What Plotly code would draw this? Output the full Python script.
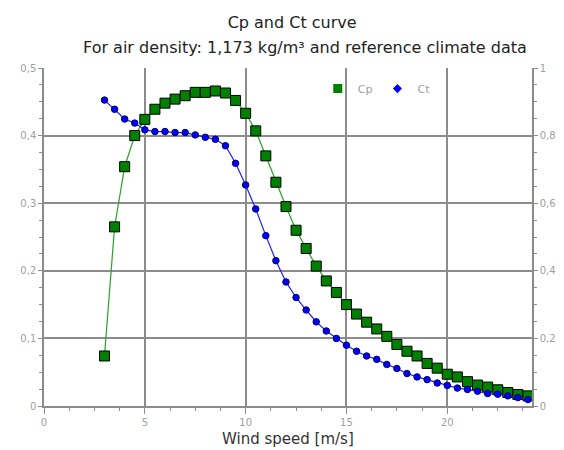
import plotly.graph_objects as go

wind_speed = [3 + 0.5 * i for i in range(43)]

cp_values = [0.074, 0.265, 0.354, 0.400, 0.424, 0.439, 0.448, 0.454, 0.459, 0.464,
             0.464, 0.466, 0.463, 0.452, 0.433, 0.407, 0.370, 0.331, 0.295, 0.260,
             0.233, 0.207, 0.185, 0.168, 0.150, 0.136, 0.124, 0.114, 0.103, 0.091,
             0.081, 0.074, 0.063, 0.056, 0.047, 0.043, 0.036, 0.031, 0.028, 0.024,
             0.020, 0.017, 0.015]

ct_values = [0.905, 0.878, 0.849, 0.837, 0.817, 0.812, 0.812, 0.809, 0.809, 0.802,
             0.795, 0.789, 0.770, 0.718, 0.654, 0.583, 0.504, 0.430, 0.367, 0.321,
             0.284, 0.249, 0.222, 0.200, 0.180, 0.162, 0.148, 0.138, 0.123, 0.111,
             0.096, 0.086, 0.078, 0.068, 0.061, 0.053, 0.049, 0.044, 0.037, 0.035,
             0.030, 0.025, 0.019]

x_ticks = [0, 5, 10, 15, 20]
cp_ticks = [0, 0.1, 0.2, 0.3, 0.4, 0.5]
ct_ticks = [0, 0.2, 0.4, 0.6, 0.8, 1.0]

title_line1 = "Cp and Ct curve"
title_line2 = "For air density: 1,173 kg/m³ and reference climate data"
x_title = "Wind speed [m/s]"

axis_gray = "#8c8c8c"
label_gray = "#a0a0a0"
font_family = "DejaVu Sans, Verdana, sans-serif"

# the page body has an 8px default margin, so the figure is sized to fit the window
W, H = 556, 442
PLOT_TOP, PLOT_BOTTOM = 60, 397.7   # figure pixels
plot_h = PLOT_BOTTOM - PLOT_TOP


def paper_y(fig_px):
    return (PLOT_BOTTOM - fig_px) / plot_h


fig = go.Figure()

fig.add_trace(go.Scatter(
    x=wind_speed, y=cp_values, mode="lines+markers", name="Cp",
    line=dict(color="#2ca02c", width=1.2),
    marker=dict(symbol="square", size=10, color="#008000",
                line=dict(color="#000000", width=1)),
    showlegend=False, yaxis="y"))

fig.add_trace(go.Scatter(
    x=wind_speed, y=ct_values, mode="lines+markers", name="Ct",
    line=dict(color="#2020ff", width=1.2),
    marker=dict(symbol="circle", size=6.5, color="#0000ff",
                line=dict(color="#000060", width=1)),
    showlegend=False, yaxis="y2"))

# legend-only entries (markers only, as in the reference)
fig.add_trace(go.Scatter(
    x=[None], y=[None], mode="markers", name="Cp",
    marker=dict(symbol="square", size=9, color="#008000"),
    showlegend=True))
fig.add_trace(go.Scatter(
    x=[None], y=[None], mode="markers", name="Ct",
    marker=dict(symbol="diamond", size=7, color="#0000ff"),
    showlegend=True))

fig.update_layout(
    width=W, height=H,
    margin=dict(l=36, r=32, t=PLOT_TOP, b=H - PLOT_BOTTOM, autoexpand=False),
    paper_bgcolor="white", plot_bgcolor="white",
    separators=",.",
    font=dict(family=font_family, size=10, color=label_gray),
    title=dict(
        text=title_line1,
        x=0.511, xanchor="center", y=1 - 14 / H, yanchor="middle",
        font=dict(family=font_family, size=16, color="#222222")),
    xaxis=dict(
        range=[0, 24.2], tickvals=x_ticks, automargin=False,
        showline=True, linecolor=axis_gray, linewidth=1.5,
        showgrid=True, gridcolor=axis_gray, gridwidth=1.5,
        ticks="outside", ticklen=6, tickcolor=axis_gray, tickwidth=1,
        minor=dict(dtick=1.25, ticks="outside", ticklen=3, tickcolor=axis_gray, showgrid=False),
        tickfont=dict(size=10, color=label_gray),
        zeroline=False),
    yaxis=dict(
        range=[0, 0.5], tickvals=cp_ticks, automargin=False,
        showline=True, linecolor=axis_gray, linewidth=1.5,
        showgrid=True, gridcolor=axis_gray, gridwidth=1.5,
        ticks="outside", ticklen=4, tickcolor=axis_gray,
        minor=dict(dtick=0.025, ticks="outside", ticklen=3, tickcolor=axis_gray, showgrid=False),
        tickfont=dict(size=10, color=label_gray),
        zeroline=False),
    yaxis2=dict(
        range=[0, 1], tickvals=ct_ticks, overlaying="y", side="right", automargin=False,
        showline=True, linecolor=axis_gray, linewidth=1.5,
        showgrid=False,
        ticks="outside", ticklen=4, tickcolor=axis_gray,
        minor=dict(dtick=0.05, ticks="outside", ticklen=3, tickcolor=axis_gray),
        tickfont=dict(size=10, color=label_gray),
        zeroline=False),
    legend=dict(
        orientation="h", x=0.561, y=0.982, xanchor="left", yanchor="top",
        bgcolor="rgba(0,0,0,0)", font=dict(size=11, color=label_gray),
        itemwidth=30, tracegroupgap=0),
    annotations=[
        dict(text=title_line2, xref="paper", yref="paper", x=0.534,
             y=paper_y(40), xanchor="center", yanchor="middle",
             showarrow=False, font=dict(family=font_family, size=16, color="#222222")),
        dict(text=x_title, xref="paper", yref="paper", x=0.5,
             y=paper_y(431), xanchor="center", yanchor="middle",
             showarrow=False, font=dict(family=font_family, size=15, color="#333333")),
    ],
)

fig.write_html("out.html")
